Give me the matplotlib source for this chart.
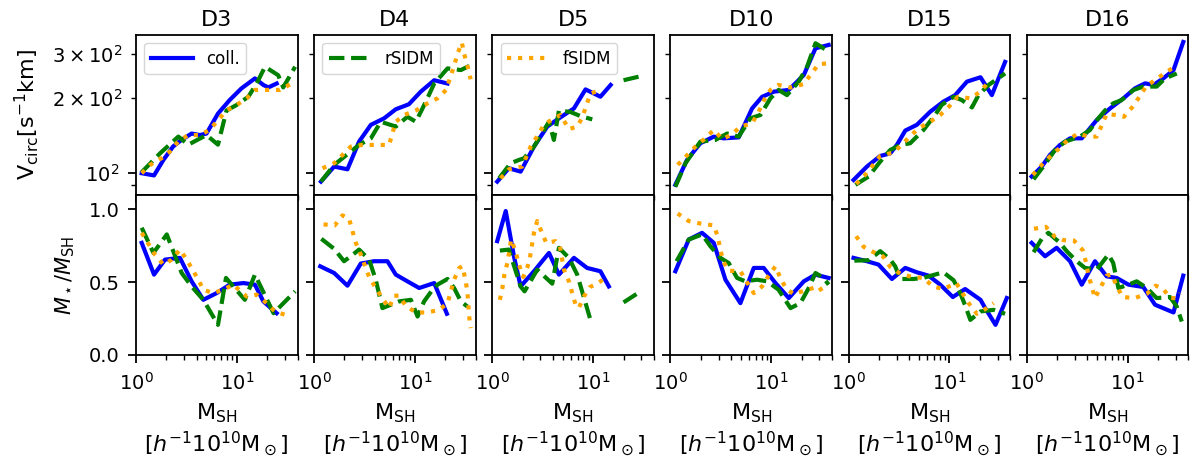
import numpy as np
import matplotlib
matplotlib.use('Agg')
import matplotlib.pyplot as plt

# haloes shown column by column
panels = ['D3', 'D4', 'D5', 'D10', 'D15', 'D16']
models = ['coll.', 'rSIDM', 'fSIDM']

# (M_SH [1e10 Msun/h], V_circ [km/s]) per halo and model
vc_d3_coll = [(1.14, 100), (1.51, 98), (1.87, 113), (2.34, 128), (2.84, 136), (3.56, 144), (4.3, 142),
              (5.0, 144), (6.5, 173), (8.5, 196), (11.1, 218), (15.1, 239), (18.3, 225), (20.5, 220),
              (24.8, 228)]
vc_d3_rsidm = [(1.14, 101), (1.73, 120), (2.63, 140), (3.3, 130), (5.0, 142), (6.5, 130), (7.9, 178),
               (9.9, 187), (13.0, 202), (15.7, 228), (19.0, 266), (25.7, 246), (28.8, 220), (37.8, 266)]
vc_d3_fsidm = [(1.14, 100), (1.38, 108), (1.8, 115), (2.17, 122), (2.63, 134), (3.3, 142), (4.3, 142),
               (5.4, 149), (6.5, 163), (7.9, 178), (9.9, 187), (12.5, 199), (15.1, 215), (19.7, 215),
               (26.8, 215), (34.9, 228)]

vc_d4_coll = [(1.17, 92.6), (1.58, 106.3), (2.14, 103.7), (2.79, 133.7), (3.65, 156), (4.94, 165.6),
              (6.45, 180), (8.7, 188.5), (11.4, 211.6), (15.5, 235), (21.0, 228)]
vc_d4_rsidm = [(1.17, 92.6), (1.58, 108), (2.31, 122), (2.79, 129.7), (3.65, 137.8), (4.58, 160.5),
               (6.45, 153.5), (8.4, 168), (10.2, 160.5), (12.8, 193), (15.5, 228), (21, 262), (28.5, 258),
               (34.4, 268)]
vc_d4_fsidm = [(1.21, 104.7), (1.58, 109.6), (2.31, 127.7), (3.01, 129.7), (4.08, 129.7), (5.53, 129.7),
               (6.45, 160.5), (7.8, 170.8), (10.2, 178), (13.3, 190), (16.7, 199), (20.3, 214.8),
               (24.4, 268), (26.3, 299), (29.1, 332), (30.7, 299), (33.1, 268), (35.6, 237)]

vc_d5_coll = [(1.12, 92.6), (1.46, 104.7), (1.91, 101.5), (2.59, 127.7), (3.51, 153.5), (4.58, 165.6),
              (6.45, 181.4), (8.4, 216), (11.8, 202), (14.9, 225)]
vc_d5_rsidm = [(1.17, 95.5), (1.52, 109.6), (1.84, 113), (2.06, 114.7), (2.59, 127.7), (3.65, 160.5),
               (4.08, 135.8), (4.58, 178), (5.97, 175.5), (7.5, 169), (9.8, 164), (np.nan, np.nan),
               (20, 235), (28.5, 243)]
vc_d5_fsidm = [(1.21, 95.5), (1.46, 103.7), (1.98, 106.3), (2.4, 127.7), (2.9, 144), (3.25, 156),
               (3.93, 164), (4.75, 170.8), (5.75, 150), (6.95, 153.5), (7.8, 167), (9.4, 208), (11.8, 214.8)]

vc_d10_coll = [(1.12, 89.9), (1.46, 113), (1.98, 131.7), (2.69, 140), (3.38, 137.8), (4.75, 139),
               (6.45, 181.4), (8.1, 201.8), (10.6, 211.6), (14.9, 215), (21, 246.6), (27.4, 315), (37, 325)]
vc_d10_rsidm = [(1.12, 88.4), (1.41, 109.6), (1.98, 133.7), (2.79, 135.8), (3.65, 144), (4.75, 140),
                (6.2, 165.6), (7.8, 170.8), (9.8, 199), (11.8, 215), (14.3, 205), (18.7, 232), (22.6, 266),
                (27.4, 330), (37, 306)]
vc_d10_fsidm = [(1.18, 108), (1.44, 117.2), (1.77, 127.7), (2.17, 137), (2.69, 148.8), (3.25, 137),
                (4.0, 142), (4.94, 153.5), (6.45, 158.3), (7.5, 176), (8.4, 194.8), (9.8, 214.8),
                (11.8, 225), (15.5, 219.6), (21, 227), (24.4, 246.6), (29.5, 272.6), (35.6, 274)]

vc_d15_coll = [(1.12, 94), (1.52, 106.3), (2.06, 117.2), (2.59, 120), (3.01, 129.7), (3.65, 148),
               (4.75, 156), (6.45, 176), (8.7, 193), (11.4, 205), (14.9, 232), (20.3, 241.5), (26.3, 205),
               (35.6, 278)]
vc_d15_rsidm = [(1.17, 89.9), (1.58, 97), (2.06, 111.3), (2.59, 123.8), (3.25, 129.7), (4.08, 131.7),
                (5.53, 148.8), (7.2, 170.8), (8.4, 187.5), (11.0, 201.8), (13.3, 195.7), (16.7, 183),
                (19.4, 205), (24.4, 225), (35.6, 250)]
vc_d15_fsidm = [(1.19, 90.7), (1.43, 97.6), (1.70, 106.3), (2.06, 117.2), (2.75, 120.9), (3.38, 129.7),
                (4.08, 141), (5.13, 152.4), (6.45, 160.5), (8.1, 170.8), (10.0, 185.3), (12.1, 201.8),
                (16.1, 199), (20.3, 211.6), (24.4, 232)]

vc_d16_coll = [(1.12, 97), (1.41, 106.3), (1.70, 118.3), (2.14, 129.7), (2.69, 137.8), (3.51, 137.8),
               (4.94, 163), (6.7, 181.4), (9.1, 199), (11.8, 218), (14.9, 228.4), (18.0, 225), (22.6, 239),
               (28.5, 258), (35.6, 334)]
vc_d16_rsidm = [(1.17, 94.6), (1.46, 106.3), (1.91, 123.8), (2.4, 133.7), (3.38, 140), (4.24, 148.8),
                (5.13, 165.6), (5.97, 178), (7.2, 190), (8.7, 195.7), (11.4, 214.8), (14.3, 221.7),
                (19.4, 221.7), (23.5, 239), (30.7, 250)]
vc_d16_fsidm = [(1.15, 98.5), (1.38, 107), (1.70, 116.5), (2.11, 125.8), (2.59, 136.6), (3.25, 144),
                (4.08, 140), (4.94, 140), (5.53, 155), (6.2, 172.4), (7.5, 170.8), (9.2, 168), (11.1, 183.3),
                (13.1, 201.8), (15.2, 221.7), (19.1, 237), (24.4, 253.5), (30.7, 270)]

# (M_SH, M_star / M_SH) per halo and model
fs_d3_coll = [(1.14, 0.77), (1.51, 0.552), (1.94, 0.655), (2.73, 0.667), (3.56, 0.506), (4.65, 0.379),
              (6.3, 0.425), (8.5, 0.483), (11.6, 0.494), (15.1, 0.483), (18.3, 0.368), (24.8, 0.287)]
fs_d3_rsidm = [(1.14, 0.874), (1.49, 0.701), (2.02, 0.828), (2.84, 0.563), (3.56, 0.471), (4.65, 0.379),
               (6.5, 0.207), (7.8, 0.529), (12.0, 0.379), (15.1, 0.552), (23.1, 0.287), (37.8, 0.437)]
fs_d3_fsidm = [(1.14, 0.839), (1.54, 0.69), (1.87, 0.621), (2.26, 0.655), (2.73, 0.724), (3.18, 0.655),
               (4.15, 0.517), (4.65, 0.448), (5.85, 0.425), (7.3, 0.448), (9.2, 0.483), (12.5, 0.402),
               (15.7, 0.414), (19.7, 0.356), (23.8, 0.299), (30.0, 0.276)]

fs_d4_coll = [(1.15, 0.609), (1.58, 0.563), (2.14, 0.476), (2.9, 0.628), (3.93, 0.644), (5.33, 0.644),
              (6.45, 0.552), (8.4, 0.506), (11.0, 0.46), (15.5, 0.494), (20.7, 0.283)]
fs_d4_rsidm = [(1.18, 0.798), (1.58, 0.729), (1.98, 0.644), (2.31, 0.678), (2.79, 0.724), (3.51, 0.655),
               (4.08, 0.517), (4.75, 0.322), (5.75, 0.345), (6.95, 0.368), (9.1, 0.379), (10.6, 0.264),
               (12.3, 0.368), (14.9, 0.448), (16.7, 0.483), (21, 0.522), (24.4, 0.46), (28.5, 0.368),
               (33, 0.333)]
fs_d4_fsidm = [(1.24, 0.897), (1.6, 0.89), (1.91, 0.959), (2.22, 0.936), (2.4, 0.851), (2.59, 0.77),
               (2.9, 0.69), (3.51, 0.536), (4.08, 0.46), (4.75, 0.391), (5.53, 0.322), (6.2, 0.407),
               (6.95, 0.407), (8.1, 0.338), (10.2, 0.292), (13.3, 0.292), (17.3, 0.31), (21, 0.356),
               (24.4, 0.517), (27.4, 0.598), (29.5, 0.609), (31.5, 0.522), (33, 0.437), (34.4, 0.264),
               (35.6, 0.184)]

fs_d5_coll = [(1.12, 0.782), (1.36, 0.989), (1.64, 0.678), (1.91, 0.471), (2.59, 0.575), (3.65, 0.701),
              (4.58, 0.552), (6.45, 0.667), (8.7, 0.598), (11.8, 0.575), (14.3, 0.471)]
fs_d5_rsidm = [(1.19, 0.717), (1.46, 0.724), (1.91, 0.471), (2.09, 0.437), (2.79, 0.586), (3.93, 0.49),
               (4.58, 0.736), (5.75, 0.667), (6.95, 0.552), (9.4, 0.241), (np.nan, np.nan),
               (20, 0.361), (28.5, 0.43)]
fs_d5_fsidm = [(1.19, 0.379), (1.26, 0.46), (1.32, 0.552), (1.41, 0.632), (1.54, 0.793), (1.70, 0.713),
               (1.84, 0.621), (2.03, 0.536), (2.22, 0.598), (2.36, 0.667), (2.59, 0.839), (2.79, 0.92),
               (3.06, 0.851), (3.43, 0.77), (4.24, 0.782), (4.68, 0.747), (5.13, 0.586), (5.75, 0.506),
               (6.2, 0.425), (6.7, 0.345), (7.2, 0.322), (8.1, 0.402), (9.3, 0.467), (11.0, 0.49),
               (13.6, 0.536)]

fs_d10_coll = [(1.12, 0.575), (1.52, 0.793), (2.06, 0.839), (2.69, 0.77), (3.51, 0.517), (4.94, 0.356),
               (6.7, 0.598), (8.4, 0.598), (11.0, 0.494), (14.9, 0.391), (21, 0.506), (27.4, 0.552),
               (37, 0.529)]
fs_d10_rsidm = [(1.15, 0.644), (1.52, 0.793), (2.06, 0.828), (2.49, 0.747), (3.13, 0.667), (3.78, 0.632),
                (4.58, 0.529), (5.53, 0.506), (7.2, 0.517), (9.1, 0.506), (11.8, 0.448), (15.5, 0.322),
                (19.4, 0.356), (23.5, 0.46), (27.4, 0.563), (33, 0.529), (37, 0.483)]
fs_d10_fsidm = [(1.18, 0.972), (1.52, 0.92), (1.98, 0.903), (2.69, 0.89), (2.94, 0.816), (3.13, 0.724),
                (3.33, 0.644), (3.78, 0.579), (4.94, 0.575), (5.75, 0.499), (6.7, 0.425), (8.1, 0.471),
                (9.4, 0.545), (11.0, 0.609), (12.3, 0.529), (14.1, 0.453), (16.7, 0.418), (22.6, 0.448),
                (29.5, 0.471), (34.4, 0.402)]

fs_d15_coll = [(1.12, 0.667), (1.52, 0.644), (1.98, 0.621), (2.69, 0.522), (3.65, 0.598), (4.75, 0.568),
               (6.2, 0.545), (8.1, 0.483), (10.8, 0.398), (14.3, 0.453), (20.3, 0.379), (22.6, 0.322),
               (28.6, 0.207), (37, 0.391)]
fs_d15_rsidm = [(1.14, 0.648), (1.58, 0.651), (2.06, 0.713), (2.59, 0.655), (2.9, 0.609), (3.25, 0.522),
                (4.41, 0.522), (5.53, 0.53), (7.0, 0.55), (8.7, 0.568), (11.0, 0.513), (12.8, 0.425),
                (14.5, 0.33), (16.1, 0.241), (20.3, 0.299), (27.4, 0.31), (35.6, 0.283)]
fs_d15_fsidm = [(1.19, 0.816), (1.41, 0.743), (1.77, 0.706), (2.19, 0.678), (2.59, 0.605), (3.25, 0.559),
                (4.24, 0.536), (5.53, 0.529), (6.85, 0.471), (8.7, 0.453), (11.7, 0.494), (13.3, 0.43),
                (15.5, 0.356), (18.7, 0.283), (22.6, 0.315), (27.4, 0.356)]

fs_d16_coll = [(1.12, 0.77), (1.52, 0.678), (1.98, 0.736), (2.69, 0.644), (3.51, 0.483), (4.75, 0.644),
               (6.2, 0.54), (7.8, 0.529), (10.2, 0.483), (14.3, 0.467), (18.7, 0.345), (28.5, 0.292),
               (35.6, 0.545)]
fs_d16_rsidm = [(1.17, 0.706), (1.41, 0.798), (1.64, 0.839), (2.14, 0.77), (2.49, 0.713), (3.13, 0.644),
                (3.78, 0.598), (4.94, 0.586), (6.45, 0.69), (7.2, 0.632), (8.1, 0.46), (10.2, 0.483),
                (12.3, 0.506), (15.5, 0.46), (19.4, 0.391), (26.3, 0.398), (30.7, 0.333), (34.4, 0.23)]
fs_d16_fsidm = [(1.18, 0.867), (1.55, 0.88), (1.91, 0.811), (2.31, 0.789), (2.94, 0.786), (3.59, 0.72),
                (3.87, 0.637), (4.08, 0.552), (4.41, 0.471), (4.75, 0.391), (5.42, 0.467), (6.2, 0.545),
                (6.95, 0.552), (7.9, 0.467), (8.9, 0.398), (11.8, 0.391), (15.5, 0.421), (19.0, 0.476),
                (22.6, 0.453), (26.3, 0.391), (30.7, 0.391), (33, 0.425)]

vcirc = [(vc_d3_coll, vc_d3_rsidm, vc_d3_fsidm),
         (vc_d4_coll, vc_d4_rsidm, vc_d4_fsidm),
         (vc_d5_coll, vc_d5_rsidm, vc_d5_fsidm),
         (vc_d10_coll, vc_d10_rsidm, vc_d10_fsidm),
         (vc_d15_coll, vc_d15_rsidm, vc_d15_fsidm),
         (vc_d16_coll, vc_d16_rsidm, vc_d16_fsidm)]
fstar = [(fs_d3_coll, fs_d3_rsidm, fs_d3_fsidm),
         (fs_d4_coll, fs_d4_rsidm, fs_d4_fsidm),
         (fs_d5_coll, fs_d5_rsidm, fs_d5_fsidm),
         (fs_d10_coll, fs_d10_rsidm, fs_d10_fsidm),
         (fs_d15_coll, fs_d15_rsidm, fs_d15_fsidm),
         (fs_d16_coll, fs_d16_rsidm, fs_d16_fsidm)]

line_colors = ['blue', 'green', 'orange']
line_styles = ['-', '--', ':']


def draw_curves(ax, curves):
    """ plots the three models of one halo into ax """
    for pts, name, c, ls in zip(curves, models, line_colors, line_styles):
        m, v = np.array(pts, dtype=float).T
        ax.plot(m, v, color=c, ls=ls, lw=3, label=name)


plt.rcParams['font.size'] = 14
plt.rcParams['axes.linewidth'] = 1.3
for a in ('xtick', 'ytick'):
    plt.rcParams[a + '.major.size'] = 6
    plt.rcParams[a + '.minor.size'] = 3.4
    plt.rcParams[a + '.major.width'] = 1.3
    plt.rcParams[a + '.minor.width'] = 1.0
    plt.rcParams[a + '.major.pad'] = 6
    plt.rcParams[a + '.minor.pad'] = 6

fig, axes = plt.subplots(2, 6, figsize=(12, 4.61), dpi=100, sharex=True, sharey='row')
fig.subplots_adjust(left=0.1133, right=0.9903, top=0.9247, bottom=0.230, wspace=0.102, hspace=0.0)

for i, name in enumerate(panels):
    ax_top = axes[0, i]
    ax_bot = axes[1, i]
    draw_curves(ax_top, vcirc[i])
    draw_curves(ax_bot, fstar[i])
    ax_top.set_title(name, fontsize=16)
    ax_bot.set_xlabel('M$_{\\rm SH}$\n[$h^{-1}10^{10}$M$_\\odot$]', fontsize=16, labelpad=6)
    if i < 3:
        # one legend entry per panel
        ax_top.legend(handles=[ax_top.lines[i]], loc='upper left', fontsize=12, handlelength=2.5)

axes[0, 0].set_xscale('log')
axes[0, 0].set_xlim(1, 40)
axes[0, 0].set_yscale('log')
axes[0, 0].set_ylim(82, 357)
axes[1, 0].set_ylim(0, 1.1)
axes[1, 0].set_yticks([0.0, 0.5, 1.0])
axes[0, 0].set_ylabel('V$_{\\rm circ}$[s$^{-1}$km]', fontsize=16, labelpad=8)
axes[1, 0].set_ylabel('$M_\\star/M_{\\rm SH}$', fontsize=15, labelpad=8)

fig.savefig('out.png', dpi=100)
